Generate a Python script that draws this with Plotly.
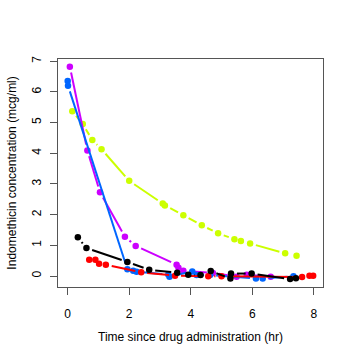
import math
import plotly.graph_objects as go

# Points, one list pair per subject colour
black_x = [0.33, 0.61, 1.94, 2.65, 3.56, 3.92, 4.32, 4.65, 5.29, 5.31, 5.98, 7.23, 7.42]
black_y = [1.26, 0.91, 0.46, 0.20, 0.11, 0.04, 0.03, 0.16, -0.08, 0.08, 0.08, -0.10, -0.07]

red_x = [0.70, 0.90, 1.02, 1.24, 2.39, 3.49, 4.57, 5.00, 7.62, 7.86, 7.98]
red_y = [0.53, 0.53, 0.40, 0.37, 0.12, 0.01, -0.01, -0.01, -0.03, 0.01, 0.01]

blue_x = [0.00, 0.01, 1.94, 2.13, 2.24, 3.27, 3.31, 4.05, 4.19, 4.63, 6.12, 6.34, 7.34]
blue_y = [6.35, 6.20, 0.22, 0.17, 0.14, 0.05, -0.02, 0.15, 0.03, 0.03, -0.08, -0.08, -0.01]

magenta_x = [0.07, 0.64, 1.05, 1.86, 2.21, 3.54, 3.60, 3.76, 4.72, 5.49, 5.82, 6.60]
magenta_y = [6.82, 4.09, 2.73, 1.28, 0.98, 0.37, 0.27, 0.17, 0.10, -0.02, 0.04, -0.02]

yellow_x = [0.15, 0.49, 0.80, 1.10, 2.00, 3.09, 3.16, 3.76, 4.36, 4.89, 5.42, 5.63, 5.93, 7.07, 7.44]
yellow_y = [5.37, 4.95, 4.43, 4.13, 3.10, 2.36, 2.30, 1.98, 1.65, 1.39, 1.20, 1.14, 1.06, 0.74, 0.66]

SERIES = [
    ("yellow", yellow_x, yellow_y, "#CCFF00"),
    ("magenta", magenta_x, magenta_y, "#CC00FF"),
    ("blue", blue_x, blue_y, "#0066FF"),
    ("red", red_x, red_y, "#FF0000"),
    ("black", black_x, black_y, "#000000"),
]

W, H = 353, 360
M = dict(l=58, r=30, t=59, b=73)
XR = [-0.315, 8.30]
YR = [-0.358, 7.07]

# px per data unit, used to leave R-style "type='b'" gaps around each point
sx = (W - M["l"] - M["r"]) / (XR[1] - XR[0])
sy = (H - M["t"] - M["b"]) / (YR[1] - YR[0])
GAP = 6


def gapped(xs, ys):
    lx, ly = [], []
    for i in range(len(xs) - 1):
        dx = (xs[i + 1] - xs[i]) * sx
        dy = (ys[i + 1] - ys[i]) * sy
        d = math.hypot(dx, dy)
        if d <= 2 * GAP:
            continue
        f = GAP / d
        lx += [xs[i] + f * (xs[i + 1] - xs[i]), xs[i + 1] - f * (xs[i + 1] - xs[i]), None]
        ly += [ys[i] + f * (ys[i + 1] - ys[i]), ys[i + 1] - f * (ys[i + 1] - ys[i]), None]
    return lx, ly


fig = go.Figure()
for name, xs, ys, col in SERIES:
    lx, ly = gapped(xs, ys)
    fig.add_trace(go.Scatter(x=lx, y=ly, mode="lines", line=dict(color=col, width=2),
                             hoverinfo="skip", showlegend=False))
    fig.add_trace(go.Scatter(x=xs, y=ys, mode="markers", name=name,
                             marker=dict(color=col, size=6.5), showlegend=False))

axis_common = dict(
    showgrid=False, zeroline=False, showline=True, mirror=True,
    linecolor="#555555", linewidth=1.3,
    ticks="outside", ticklen=7, tickcolor="#555555", tickwidth=1,
    tickfont=dict(size=12, color="#000000"),
)

fig.update_xaxes(range=XR, tickvals=[0, 2, 4, 6, 8], ticklabelstandoff=8, **axis_common)
fig.update_yaxes(range=YR, tickvals=list(range(8)), tickangle=-90, ticklabelstandoff=4, **axis_common)

fig.update_layout(
    width=W, height=H, margin=M,
    plot_bgcolor="white", paper_bgcolor="white",
    font=dict(family="Liberation Sans, Arial, sans-serif", size=12, color="#000000"),
    annotations=[
        dict(text="Time since drug administration (hr)", xref="paper", yref="paper",
             x=0.5, y=-0.219, xanchor="center", yanchor="middle", showarrow=False,
             font=dict(size=12)),
        dict(text="Indomethicin concentration (mcg/ml)", xref="paper", yref="paper",
             x=-0.175, y=0.5, xanchor="center", yanchor="middle", textangle=-90,
             showarrow=False, font=dict(size=12)),
    ],
)

# the page body has a default 8px margin; drop it so the figure sits at the window corner
fig.write_html("out.html", config={"displayModeBar": False},
               post_script="document.body.style.margin='0';")
